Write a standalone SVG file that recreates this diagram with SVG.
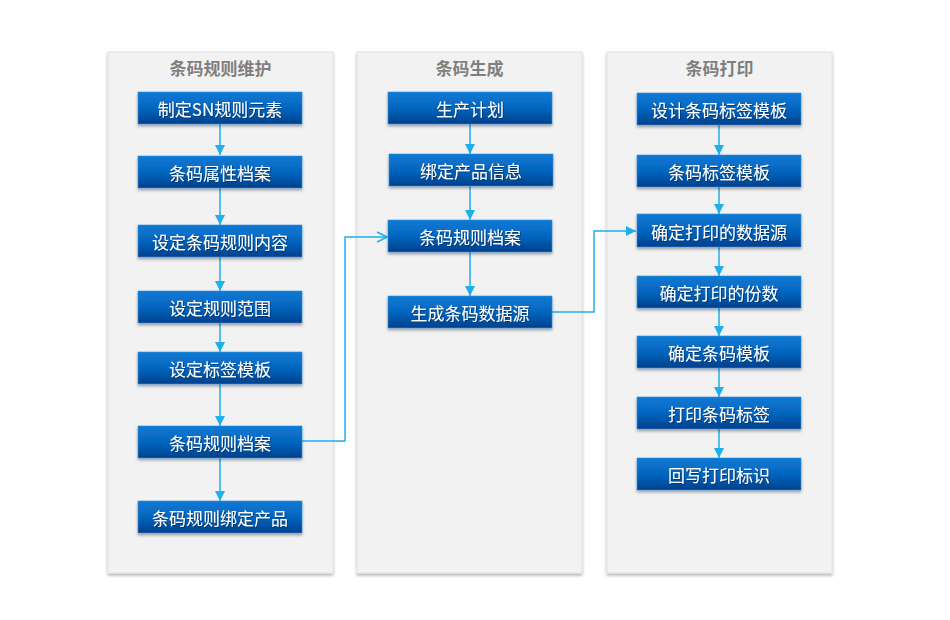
<svg xmlns="http://www.w3.org/2000/svg" width="950" height="620" viewBox="0 0 950 620">
<defs>
<linearGradient id="bg" x1="0" y1="0" x2="0" y2="1">
<stop offset="0" stop-color="#0a7ad6"/>
<stop offset="0.55" stop-color="#0563bb"/>
<stop offset="1" stop-color="#023f8c"/>
</linearGradient>
<filter id="ps" x="-5%" y="-5%" width="110%" height="110%">
<feDropShadow dx="0" dy="2" stdDeviation="1.5" flood-color="#000" flood-opacity="0.3"/>
</filter>
<filter id="bs" x="-10%" y="-20%" width="120%" height="150%">
<feDropShadow dx="0" dy="2" stdDeviation="1.5" flood-color="#000" flood-opacity="0.35"/>
</filter>
<filter id="ts" x="-10%" y="-20%" width="120%" height="150%">
<feDropShadow dx="0.8" dy="0.8" stdDeviation="0.5" flood-color="#002050" flood-opacity="0.7"/>
</filter>
<marker id="af" viewBox="0 0 10 10" refX="10" refY="5" markerWidth="10" markerHeight="10" markerUnits="userSpaceOnUse" orient="auto">
<path d="M0,0 L10,5 L0,10 Z" fill="#1fb0ea"/>
</marker>
<marker id="ao" viewBox="0 0 12 12" refX="11" refY="6" markerWidth="12" markerHeight="12" markerUnits="userSpaceOnUse" orient="auto">
<path d="M1,1 L11,6 L1,11" fill="none" stroke="#1fb0ea" stroke-width="1.6"/>
</marker>
</defs>
<style>
.panel{fill:#f2f2f2;stroke:#e2e2e2;stroke-width:1}
.ptitle{font-family:"Noto Sans CJK SC","Liberation Sans",sans-serif;font-size:17px;font-weight:bold;fill:#7f7f7f;text-anchor:middle}
.box{fill:url(#bg);stroke:#3f8fd8;stroke-width:0.6}
.bt{font-family:"Noto Sans CJK SC","Liberation Sans",sans-serif;font-size:17px;fill:#ffffff;text-anchor:middle;dominant-baseline:central}
.c{fill:none;stroke:#1fb0ea;stroke-width:1.5}
</style>
<rect width="950" height="620" fill="#ffffff"/>
<g id="panels">
<rect class="panel" x="108" y="52" width="225" height="521" filter="url(#ps)"/>
<rect class="panel" x="357" y="52" width="225" height="521" filter="url(#ps)"/>
<rect class="panel" x="607" y="52" width="225" height="521" filter="url(#ps)"/>
<text class="ptitle" x="220.5" y="75">条码规则维护</text>
<text class="ptitle" x="469.5" y="75">条码生成</text>
<text class="ptitle" x="719.5" y="75">条码打印</text>
</g>
<g id="connectors">
<line class="c" x1="220" y1="124" x2="220" y2="155" marker-end="url(#af)"/>
<line class="c" x1="220" y1="188" x2="220" y2="225" marker-end="url(#af)"/>
<line class="c" x1="220" y1="257" x2="220" y2="291" marker-end="url(#af)"/>
<line class="c" x1="220" y1="323" x2="220" y2="352" marker-end="url(#af)"/>
<line class="c" x1="220" y1="384" x2="220" y2="426" marker-end="url(#af)"/>
<line class="c" x1="220" y1="458" x2="220" y2="501" marker-end="url(#af)"/>
<line class="c" x1="470" y1="124" x2="470" y2="154" marker-end="url(#af)"/>
<line class="c" x1="470" y1="186" x2="470" y2="220" marker-end="url(#af)"/>
<line class="c" x1="470" y1="252" x2="470" y2="296" marker-end="url(#af)"/>
<line class="c" x1="719" y1="125" x2="719" y2="155" marker-end="url(#af)"/>
<line class="c" x1="719" y1="187" x2="719" y2="214" marker-end="url(#af)"/>
<line class="c" x1="719" y1="247" x2="719" y2="276" marker-end="url(#af)"/>
<line class="c" x1="719" y1="308" x2="719" y2="336" marker-end="url(#af)"/>
<line class="c" x1="719" y1="368" x2="719" y2="397" marker-end="url(#af)"/>
<line class="c" x1="719" y1="429" x2="719" y2="458" marker-end="url(#af)"/>
<polyline class="c" points="302,441 345,441 345,237 387,237" marker-end="url(#ao)"/>
<polyline class="c" points="552,312 594,312 594,231 636,231" marker-end="url(#af)"/>
</g>
<g id="n1"><rect class="box" x="138" y="92" width="164" height="32" filter="url(#bs)"/><text class="bt" x="220" y="108" filter="url(#ts)">制定SN规则元素</text></g>
<g id="n2"><rect class="box" x="138" y="156" width="164" height="32" filter="url(#bs)"/><text class="bt" x="220" y="172" filter="url(#ts)">条码属性档案</text></g>
<g id="n3"><rect class="box" x="138" y="225" width="164" height="32" filter="url(#bs)"/><text class="bt" x="220" y="241" filter="url(#ts)">设定条码规则内容</text></g>
<g id="n4"><rect class="box" x="138" y="291" width="164" height="32" filter="url(#bs)"/><text class="bt" x="220" y="307" filter="url(#ts)">设定规则范围</text></g>
<g id="n5"><rect class="box" x="138" y="352" width="164" height="32" filter="url(#bs)"/><text class="bt" x="220" y="368" filter="url(#ts)">设定标签模板</text></g>
<g id="n6"><rect class="box" x="138" y="426" width="164" height="32" filter="url(#bs)"/><text class="bt" x="220" y="442" filter="url(#ts)">条码规则档案</text></g>
<g id="n7"><rect class="box" x="138" y="501" width="164" height="32" filter="url(#bs)"/><text class="bt" x="220" y="517" filter="url(#ts)">条码规则绑定产品</text></g>
<g id="m1"><rect class="box" x="388" y="92" width="164" height="32" filter="url(#bs)"/><text class="bt" x="470" y="108" filter="url(#ts)">生产计划</text></g>
<g id="m2"><rect class="box" x="389" y="154" width="164" height="32" filter="url(#bs)"/><text class="bt" x="471" y="170" filter="url(#ts)">绑定产品信息</text></g>
<g id="m3"><rect class="box" x="388" y="220" width="164" height="32" filter="url(#bs)"/><text class="bt" x="470" y="236" filter="url(#ts)">条码规则档案</text></g>
<g id="m4"><rect class="box" x="388" y="296" width="164" height="32" filter="url(#bs)"/><text class="bt" x="470" y="312" filter="url(#ts)">生成条码数据源</text></g>
<g id="r1"><rect class="box" x="637" y="93" width="164" height="32" filter="url(#bs)"/><text class="bt" x="719" y="109" filter="url(#ts)">设计条码标签模板</text></g>
<g id="r2"><rect class="box" x="637" y="155" width="164" height="32" filter="url(#bs)"/><text class="bt" x="719" y="171" filter="url(#ts)">条码标签模板</text></g>
<g id="r3"><rect class="box" x="637" y="214" width="164" height="33" filter="url(#bs)"/><text class="bt" x="719" y="231" filter="url(#ts)">确定打印的数据源</text></g>
<g id="r4"><rect class="box" x="637" y="276" width="164" height="32" filter="url(#bs)"/><text class="bt" x="719" y="292" filter="url(#ts)">确定打印的份数</text></g>
<g id="r5"><rect class="box" x="637" y="336" width="164" height="32" filter="url(#bs)"/><text class="bt" x="719" y="352" filter="url(#ts)">确定条码模板</text></g>
<g id="r6"><rect class="box" x="637" y="397" width="164" height="32" filter="url(#bs)"/><text class="bt" x="719" y="413" filter="url(#ts)">打印条码标签</text></g>
<g id="r7"><rect class="box" x="637" y="458" width="164" height="32" filter="url(#bs)"/><text class="bt" x="719" y="474" filter="url(#ts)">回写打印标识</text></g>
</svg>
